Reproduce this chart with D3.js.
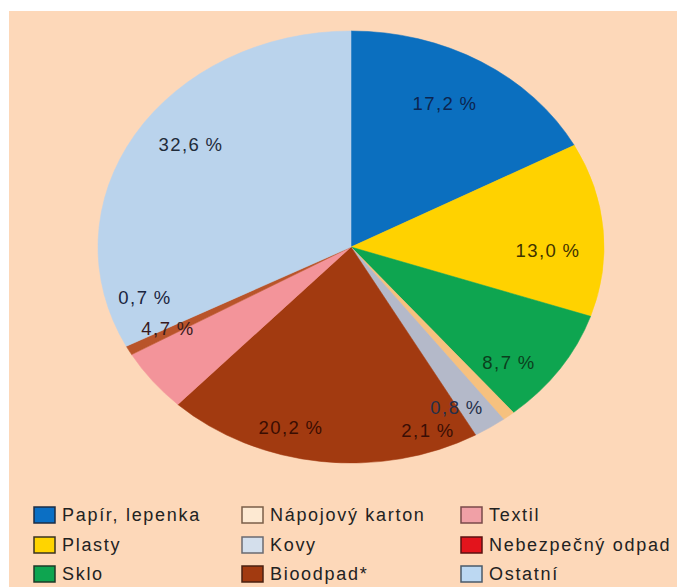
<!DOCTYPE html>
<html>
<head>
<meta charset="utf-8">
<script src="https://cdn.jsdelivr.net/npm/d3@7"></script>
<style>
  html, body { margin: 0; padding: 0; background: #ffffff; }
  svg { display: block; }
</style>
</head>
<body>
<svg id="chart" width="677" height="587"></svg>
<script>
// ---- data ----
const categories = ["Papír, lepenka", "Plasty", "Sklo", "Nápojový karton", "Kovy", "Bioodpad*", "Textil", "Nebezpečný odpad", "Ostatní"];
const values = [17.2, 13.0, 8.7, 0.8, 2.1, 20.2, 4.7, 0.7, 32.6];
const valueLabels = ["17,2\u2009%", "13,0\u2009%", "8,7\u2009%", "0,8\u2009%", "2,1\u2009%", "20,2\u2009%", "4,7\u2009%", "0,7\u2009%", "32,6\u2009%"];
const legendOrder = ["Papír, lepenka", "Plasty", "Sklo", "Nápojový karton", "Kovy", "Bioodpad*", "Textil", "Nebezpečný odpad", "Ostatní"];

// ---- styles ----
const sliceColors = ["#0b6fbf", "#ffd200", "#0ea550", "#f6c17f", "#b4b9c9", "#a23a10", "#f3949a", "#b9542a", "#bad3ec"];
const legendColors = ["#0b6fc4", "#ffd400", "#0ea550", "#fde9d2", "#d4dfec", "#a23a10", "#f0a0a6", "#e3141c", "#bcd8f2"];
const legendStroke = ["#1d2d44", "#3a3320", "#1f3a27", "#7a5e48", "#6a6a70", "#4a2010", "#7a4a4a", "#5a1010", "#4a5a6a"];
const labelColors = ["#0c2550", "#3f3300", "#0b3f1d", "#25304a", "#3a0e05", "#3a0d02", "#3a1a1c", "#1a2540", "#1f2b3a"];
// label anchor positions (px) for the percentage annotations
const labelPos = [[445,103],[548,250],[509,362],[457,407],[428,430],[291,427],[168,328],[145,297],[191,144]];

const W = 677, H = 587;
const svg = d3.select("#chart");

// background (white margin top/left, peach panel)
svg.append("rect").attr("x", 0).attr("y", 0).attr("width", W).attr("height", H).attr("fill", "#ffffff");
svg.append("rect").attr("x", 9).attr("y", 11).attr("width", W - 9).attr("height", H - 11).attr("fill", "#fdd8b9");

// pie (ellipse = circle scaled horizontally)
const cx = 351, cy = 247, rx = 253, ry = 216;
const pie = d3.pie().sort(null).value(d => d)(values);
const arc = d3.arc().innerRadius(0).outerRadius(ry);

const g = svg.append("g").attr("transform", `translate(${cx},${cy}) scale(${rx / ry},1)`);
g.selectAll("path").data(pie).join("path")
  .attr("d", arc)
  .attr("fill", (d, i) => sliceColors[i])
  .attr("stroke", (d, i) => sliceColors[i])
  .attr("stroke-width", 0.5);

// labels
svg.append("g").selectAll("text").data(pie).join("text")
  .attr("x", (d, i) => labelPos[i][0])
  .attr("y", (d, i) => labelPos[i][1])
  .attr("text-anchor", "middle")
  .attr("dominant-baseline", "central")
  .attr("font-family", "'Liberation Sans', Arial, sans-serif")
  .attr("font-size", 18.5)
  .attr("letter-spacing", 1.5)
  .attr("fill", (d, i) => labelColors[i])
  .text((d, i) => valueLabels[i]);

// legend
const colX = [34, 242, 461];
const rowY = [507, 537, 566];
const legend = svg.append("g");
legendOrder.forEach((name, k) => {
  const i = categories.indexOf(name);
  const col = Math.floor(k / 3), row = k % 3;
  const x = colX[col], y = rowY[row];
  legend.append("rect")
    .attr("x", x).attr("y", y).attr("width", 21).attr("height", 16)
    .attr("fill", legendColors[i])
    .attr("stroke", legendStroke[i]).attr("stroke-width", 1.5);
  legend.append("text")
    .attr("x", x + 28).attr("y", y + 8)
    .attr("dominant-baseline", "central")
    .attr("font-family", "'Liberation Sans', Arial, sans-serif")
    .attr("font-size", 18)
    .attr("letter-spacing", 1.7)
    .attr("fill", "#222222")
    .text(name);
});
</script>
</body>
</html>
